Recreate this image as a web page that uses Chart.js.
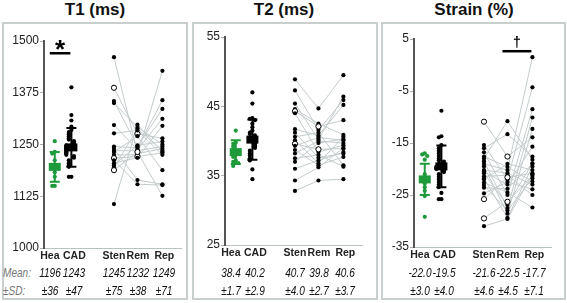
<!DOCTYPE html>
<html>
<head>
<meta charset="utf-8">
<script src="https://cdn.jsdelivr.net/npm/chart.js@4.4.0/dist/chart.umd.min.js"></script>
<style>
  body { margin: 0; background: #fff; font-family: "Liberation Sans", Arial, sans-serif; }
  #wrap { position: relative; width: 567px; height: 303px; overflow: hidden; }
  .box { position: absolute; top: 22px; height: 278px; border: 2px solid #c9cfcf; box-sizing: border-box; }
  .title { position: absolute; top: 0; font-weight: bold; font-size: 17px; line-height: 20px; transform: translateX(-50%); white-space: nowrap; color: #111; }
  canvas { position: absolute; }
  .st { position: absolute; font-style: italic; font-size: 12px; line-height: 14px; transform: translateX(-50%) scaleX(0.84); white-space: nowrap; color: #111; }
  .lbl { position: absolute; font-style: italic; font-size: 12px; line-height: 14px; transform: scaleX(0.84); transform-origin: left; color: #777; }
</style>
</head>
<body>
<div id="wrap">
  <div class="box" style="left:2px;width:186px"></div>
  <div class="box" style="left:192px;width:186px"></div>
  <div class="box" style="left:381px;width:185px"></div>
  <div class="title" style="left:95px">T1 (ms)</div>
  <div class="title" style="left:284px">T2 (ms)</div>
  <div class="title" style="left:474px">Strain (%)</div>
  <div class="lbl" style="left:3px;top:266px">Mean:</div>
  <div class="lbl" style="left:3px;top:284px">±SD:</div>
</div>
<script>
const groups = ["Hea", "CAD", "Sten", "Rem", "Rep"];

// T1 (ms)
const t1Hea = [1258, 1232, 1228, 1212, 1200, 1192, 1183, 1172, 1150, 1150];
const t1Cad = [1388, 1321, 1308, 1293, 1285, 1280, 1275, 1270, 1265, 1262, 1258, 1255, 1252, 1250, 1248, 1246, 1244,
  1242, 1240, 1238, 1236, 1234, 1232, 1230, 1228, 1225, 1222, 1218, 1212, 1205, 1200, 1196, 1172, 1172];
// paired patients: Sten -> Rem -> Rep
const t1Sten = [1461, 1387, 1355, 1350, 1297, 1277, 1245, 1240, 1235, 1232, 1225, 1217, 1212, 1205, 1200, 1195, 1188, 1106];
const t1Rem  = [1228, 1276, 1245, 1292, 1238, 1284, 1242, 1164, 1235, 1270, 1225, 1221, 1154, 1218, 1248, 1288, 1232, 1298];
const t1Rep  = [1240, 1265, 1336, 1250, 1312, 1225, 1357, 1154, 1245, 1188, 1428, 1230, 1152, 1295, 1257, 1235, 1126, 1232];
const t1Open = [1, 11, 16];
const t1Mean = [1196, 1243, 1245, 1232, 1249];
const t1Sd = [36, 47, 75, 38, 71];

// T2 (ms)
const t2Hea = [41.5, 39.8, 39.6, 39.2, 38.5, 38.0, 37.7, 37.2, 37.0, 36.8, 36.4];
const t2Cad = [47.0, 45.4, 43.3, 43.2, 43.0, 42.5, 42.0, 41.5, 41.2, 41.0, 40.8, 40.6, 40.4, 40.2, 40.0, 39.8, 39.6,
  39.4, 39.2, 39.0, 38.6, 38.2, 37.9, 37.5, 37.2, 35.9, 34.5];
const t2Sten = [48.9, 47.3, 45.4, 44.6, 44.3, 44.0, 41.7, 41.2, 40.6, 40.1, 39.6, 39.3, 38.7, 38.2, 37.5, 37.0, 36.0, 34.3, 32.8];
const t2Rem  = [44.7, 41.6, 40.2, 42.5, 42.1, 38.4, 40.8, 37.6, 41.2, 36.8, 38.8, 40.5, 36.5, 40.0, 38.0, 39.7, 37.2, 36.2, 34.3];
const t2Rep  = [49.5, 45.9, 46.4, 40.9, 43.0, 39.4, 45.2, 38.2, 36.5, 40.6, 38.9, 40.1, 37.7, 39.7, 36.3, 40.3, 38.4, 39.0, 34.5];
const t2Open = [4, 10];
const t2Mean = [38.4, 40.2, 40.7, 39.8, 40.6];
const t2Sd = [1.7, 2.9, 4.0, 2.7, 3.7];

// Strain (%)
const stHea = [-17.0, -17.2, -17.5, -18.2, -21.0, -22.0, -22.8, -23.5, -24.2, -25.2, -29.2];
const stCad = [-8.8, -13.7, -13.9, -15.4, -16.0, -16.5, -17.0, -17.5, -18.0, -18.3, -18.6, -19.0, -19.2, -19.4, -19.6,
  -19.8, -20.0, -20.3, -20.6, -21.0, -21.5, -22.0, -22.5, -23.0, -23.5, -24.6, -25.8, -25.8];
const stSten = [-10.9, -15.4, -16.0, -16.8, -17.6, -18.0, -18.5, -19.0, -19.5, -20.2, -20.5, -20.8, -21.4, -21.8, -22.0,
  -25.8, -29.5, -22.6, -23.1, -23.6, -24.7, -31.0];
const stRem  = [-17.6, -22.0, -13.3, -25.0, -19.6, -10.8, -27.5, -20.2, -28.6, -20.8, -23.0, -26.9, -21.2, -29.4, -19.0,
  -21.6, -26.3, -24.5, -28.0, -23.8, -22.5, -29.6];
const stRep  = [-13.9, -4.3, -17.6, -8.5, -22.4, -18.2, -10.1, 1.5, -12.3, -23.0, -15.7, -18.9, -25.0, -19.5, -20.2,
  -20.8, -21.3, -27.4, -21.8, -19.0, -23.9, -21.0];
const stOpen = [0, 15, 16];
const stMean = [-22.0, -19.5, -21.6, -22.5, -17.7];
const stSd = [3.0, 4.0, 4.6, 4.5, 7.1];

const GREEN = "#1f9a3b";
const LINE = "#c3cbcc";
const FONT = "'Liberation Sans', Arial, sans-serif";

// slot centres, in px from the y axis
const dotX = [11, 28, 71.5, 95.5, 121];
const labelX = [6, 31, 71.5, 96, 123];

// spread dots sideways when values sit on top of each other
function jitter(vals, tol) {
  const pattern = [0, -1, 1, -2, 2, -3, 3];
  return vals.map((v, i) => {
    let n = 0;
    for (let j = 0; j < i; j++) if (Math.abs(vals[j] - v) < tol) n++;
    return pattern[n % pattern.length] * 2.6;
  });
}

const groupMarks = {
  id: "groupMarks",
  afterDatasetsDraw(chart, args, opts) {
    const { ctx, scales: { x, y } } = chart;
    for (let g = 0; g < 2; g++) {
      const cx = x.getPixelForValue(dotX[g]);
      const m = opts.mean[g], sd = opts.sd[g];
      const top = y.getPixelForValue(m + sd), bot = y.getPixelForValue(m - sd), my = y.getPixelForValue(m);
      ctx.save();
      ctx.strokeStyle = ctx.fillStyle = g === 0 ? GREEN : "#000";
      ctx.lineWidth = 2;
      ctx.beginPath();
      ctx.moveTo(cx, top); ctx.lineTo(cx, bot);
      ctx.moveTo(cx - 5, top); ctx.lineTo(cx + 5, top);
      ctx.moveTo(cx - 5, bot); ctx.lineTo(cx + 5, bot);
      ctx.stroke();
      ctx.fillRect(cx - 6, my - 4, 12, 8);
      ctx.restore();
    }
    const s = opts.sig;
    if (s) {
      const x1 = x.getPixelForValue(dotX[s.from]) - 5, x2 = x.getPixelForValue(dotX[s.to]) - 1;
      const by = y.getPixelForValue(s.y);
      ctx.save();
      ctx.fillStyle = "#000";
      ctx.fillRect(x1, by - 1, x2 - x1, 2.5);
      ctx.font = s.font;
      ctx.textAlign = "center";
      ctx.textBaseline = "alphabetic";
      ctx.fillText(s.mark, (x1 + x2) / 2, by + s.dy);
      ctx.restore();
    }
  }
};

function makePanel(p) {
  const wrap = document.getElementById("wrap");
  const cv = document.createElement("canvas");
  const W = 184, H = p.bottom - 22 + 22;
  cv.width = W; cv.height = H;
  cv.style.width = W + "px"; cv.style.height = H + "px";
  const left = p.axis - 42;
  cv.style.left = left + "px"; cv.style.top = "22px";
  wrap.appendChild(cv);

  const datasets = [];
  p.sten.forEach((v, i) => {
    datasets.push({
      data: [{ x: dotX[2], y: v }, { x: dotX[3], y: p.rem[i] }, { x: dotX[4], y: p.rep[i] }],
      showLine: true, borderColor: LINE, borderWidth: 1, pointRadius: 0, order: 2
    });
  });
  const tol = (p.max - p.min) / 65;
  [p.hea, p.cad].forEach((vals, g) => {
    const offs = jitter(vals, tol);
    datasets.push({
      data: vals.map((v, i) => ({ x: dotX[g] + offs[i], y: v })),
      pointRadius: 2.1, pointBackgroundColor: g ? "#000" : GREEN, pointBorderWidth: 0, order: 0
    });
  });
  [p.sten, p.rem, p.rep].forEach((vals, k) => {
    const open = k < 2 ? p.open : [];
    datasets.push({
      data: vals.map(v => ({ x: dotX[k + 2], y: v })),
      pointRadius: c => open.includes(c.dataIndex) ? 2.6 : 2.1,
      pointBackgroundColor: c => open.includes(c.dataIndex) ? "#fff" : "#000",
      pointBorderColor: "#000",
      pointBorderWidth: c => open.includes(c.dataIndex) ? 1 : 0,
      order: 0
    });
  });

  const chart = new Chart(cv.getContext("2d"), {
    type: "scatter",
    data: { datasets },
    options: {
      responsive: false,
      animation: false,
      layout: { padding: { top: p.top - 22, right: 2, left: 0, bottom: 0 } },
      plugins: {
        legend: { display: false },
        tooltip: { enabled: false },
        groupMarks: { mean: p.mean, sd: p.sd, sig: p.sig }
      },
      scales: {
        x: {
          type: "linear", min: 0, max: 140,
          afterBuildTicks: s => { s.ticks = labelX.map(v => ({ value: v })); },
          afterFit: s => { s.height = 22; },
          ticks: {
            callback: (v, i) => groups[i],
            autoSkip: false, maxRotation: 0, padding: 2,
            color: "#222", font: { family: FONT, size: 10.5, weight: "bold" }
          },
          grid: { display: false, drawTicks: false },
          border: { display: true, color: "#b9c2c2", width: 1 }
        },
        y: {
          min: p.min, max: p.max,
          afterFit: s => { s.width = 42; },
          ticks: { stepSize: p.step, padding: 1, color: "#222", font: { family: FONT, size: 12 }, callback: v => String(v) },
          grid: { drawOnChartArea: false, drawTicks: true, tickLength: 4, color: "#aab2b2" },
          border: { display: true, color: "#555", width: 2 }
        }
      }
    },
    plugins: [groupMarks]
  });

  // mean and SD rows under the slots
  labelX.forEach((lx, i) => {
    const cx = left + chart.scales.x.getPixelForValue(lx);
    const m = document.createElement("div");
    m.className = "st";
    m.style.left = cx + "px"; m.style.top = "266px";
    m.textContent = p.mean[i].toFixed(p.dec);
    wrap.appendChild(m);
    const s = document.createElement("div");
    s.className = "st";
    s.style.left = cx + "px"; s.style.top = "284px";
    s.textContent = "±" + p.sd[i].toFixed(p.dec);
    wrap.appendChild(s);
  });
}

makePanel({
  axis: 44, top: 41, bottom: 248, min: 1000, max: 1500, step: 125,
  hea: t1Hea, cad: t1Cad, sten: t1Sten, rem: t1Rem, rep: t1Rep, open: t1Open,
  mean: t1Mean, sd: t1Sd, dec: 0,
  sig: { from: 0, to: 1, y: 1471, mark: "*", font: "bold 26px " + FONT, dy: 5 }
});
makePanel({
  axis: 225, top: 37, bottom: 245, min: 25, max: 55, step: 10,
  hea: t2Hea, cad: t2Cad, sten: t2Sten, rem: t2Rem, rep: t2Rep, open: t2Open,
  mean: t2Mean, sd: t2Sd, dec: 1, sig: null
});
makePanel({
  axis: 414, top: 39, bottom: 247, min: -35, max: 5, step: 10,
  hea: stHea, cad: stCad, sten: stSten, rem: stRem, rep: stRep, open: stOpen,
  mean: stMean, sd: stSd, dec: 1,
  sig: { from: 3, to: 4, y: 2.7, mark: "†", font: "bold 14px " + FONT, dy: -4 }
});
</script>
</body>
</html>
